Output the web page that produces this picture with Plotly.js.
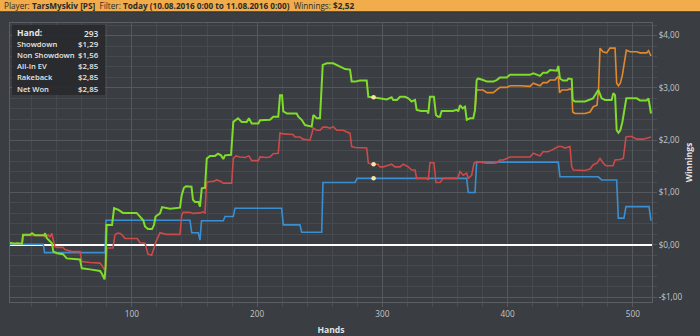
<!DOCTYPE html>
<html>
<head>
<meta charset="utf-8">
<script src="https://cdn.plot.ly/plotly-3.0.1.min.js"></script>
<style>
html,body{margin:0;padding:0;background:#3a3d41;}
#chart{width:700px;height:336px;}
</style>
</head>
<body>
<div id="chart"></div>
<script>
// ---- Data (hand number, winnings in $) ----
const netWonPoints = [
 [2.7,0.04],[5.9,0.02],[8.3,0.03],[10.7,0.02],[12.3,0.02],[13.1,0.19],[18.7,0.19],[20.3,0.22],[22.7,0.18],[29.9,0.18],
 [30.7,0.22],[32.3,0.12],[34.7,0.06],[36.2,0.03],[37.3,-0.13],[40.2,-0.16],[45,-0.18],[48,-0.26],[58.6,-0.28],[60,-0.45],
 [66.6,-0.47],[74.6,-0.5],[76.2,-0.56],[78.2,-0.66],[79,-0.44],[79.8,0.38],[84.2,0.38],[85.8,0.70],[89,0.67],[92.9,0.61],
 [103.8,0.61],[106.5,0.54],[109.1,0.47],[110.5,0.35],[112.9,0.30],[116.1,0.30],[117.7,0.38],[118.9,0.54],[122.5,0.60],[124.1,0.72],
 [130.4,0.69],[138.4,0.71],[139.8,0.95],[141.6,1.09],[143.2,1.12],[147.6,1.11],[148.8,0.86],[150.4,0.82],[153.2,0.82],[154.4,0.73],
 [155.8,1.08],[158.4,1.09],[159.8,1.65],[162.4,1.70],[166.4,1.70],[168.8,1.74],[171.2,1.71],[173,1.64],[174.4,1.71],[179.2,1.72],
 [181,2.35],[184.8,2.42],[187.7,2.35],[191.7,2.35],[193.5,2.42],[195.7,2.32],[201,2.32],[202.3,2.38],[210.3,2.39],[212.9,2.45],
 [216.9,2.45],[218.3,2.86],[219.9,2.86],[220.9,2.55],[223.9,2.51],[231.6,2.51],[232.9,2.45],[235.6,2.39],[238.2,2.29],[243.6,2.26],
 [244.9,2.48],[247.6,2.42],[250.2,2.42],[252.4,3.44],[255.6,3.47],[260.8,3.47],[263.6,3.44],[266.3,3.41],[270.2,3.36],[274.2,3.35],
 [275.5,3.12],[278.2,3.12],[282.2,3.14],[287.5,3.14],[288.8,2.83],[292.5,2.82],[300.5,2.80],[303.5,2.78],[307.4,2.82],[308.7,2.77],
 [311.7,2.77],[314.1,2.83],[318.1,2.83],[320.7,2.80],[323.4,2.74],[326.1,2.77],[327.4,2.58],[330.9,2.56],[335.7,2.56],[336.7,2.51],
 [338,2.83],[341.2,2.83],[342.8,2.48],[344.4,2.45],[346,2.45],[347.4,2.56],[356.4,2.56],[359.4,2.58],[360.6,2.55],[362,2.67],
 [364.1,2.61],[366,2.64],[367.4,2.39],[370,2.42],[372.6,2.42],[374,2.58],[375.3,3.15],[376.4,3.18],[380.4,3.15],[383.5,3.12],
 [388.6,3.12],[391.3,3.15],[393.9,3.20],[399.3,3.20],[401.9,3.25],[409.9,3.25],[417.9,3.25],[420.5,3.28],[425.9,3.23],[428.3,3.29],
 [431.5,3.29],[433.9,3.34],[437.9,3.34],[439.4,3.33],[440.5,3.42],[441.8,3.18],[444.2,3.14],[447.4,3.14],[448.5,3.18],[451.2,3.17],
 [452,2.77],[453.8,2.74],[461.8,2.74],[464.4,2.77],[468.2,2.80],[469.8,2.86],[472.4,2.96],[473.8,2.88],[475.1,2.80],[477.8,2.77],
 [483.1,2.77],[484.4,2.90],[485.8,2.86],[487.1,2.19],[488.5,2.14],[490,2.19],[491.6,2.34],[493.2,2.57],[494.8,2.80],[497.7,2.80],
 [503.1,2.80],[505.7,2.76],[511.1,2.76],[512.5,2.80],[514.5,2.51]
];
const allInEvPoints = [
 [374,2.58],[375.3,2.97],[376.4,2.96],[380.4,2.96],[383.5,2.91],[388.6,2.91],[391.3,2.96],[393.9,3.01],[399.3,3.01],[401.9,3.04],
 [409.9,3.04],[417.9,3.03],[420.5,3.09],[425.9,3.04],[428.3,3.10],[431.5,3.10],[433.9,3.15],[437.9,3.15],[439.4,3.20],[440.5,3.22],
 [441.5,2.91],[443.4,2.96],[447.4,2.96],[449.8,2.98],[451.2,2.96],[452,2.54],[453.8,2.51],[461.8,2.51],[465.8,2.54],[468.4,2.64],
 [471.4,2.67],[472.6,2.96],[473.8,3.76],[476.1,3.69],[479.1,3.67],[481.7,3.76],[485.8,3.76],[487.1,3.09],[488.5,3.04],[490,3.09],
 [491.6,3.24],[493.2,3.47],[494.8,3.72],[497.7,3.69],[503.1,3.69],[505.7,3.67],[511.1,3.67],[512.5,3.71],[514.5,3.61]
];
const nonShowdownPoints = [
 [2.7,0.03],[12.3,0.02],[13.1,0.18],[29.1,0.18],[30.7,0.15],[33.1,0.19],[34.7,0.15],[36,0.22],[37.3,0.09],[38.6,-0.04],
 [41,-0.05],[45,-0.05],[46.6,-0.09],[52,-0.13],[58.6,-0.13],[60,-0.32],[66.6,-0.34],[74.6,-0.35],[75.9,-0.39],[78.2,-0.48],
 [79.4,-0.39],[80.2,-0.06],[84.9,-0.06],[86.5,0.19],[88.1,0.22],[90.5,0.22],[92.1,0.19],[94.5,0.12],[104.3,0.12],[106.5,0.04],
 [110.5,0.03],[111.9,-0.07],[112.9,-0.18],[115.8,-0.20],[117.1,-0.10],[119.3,0.06],[122.5,0.23],[124.9,0.22],[127.3,0.20],[138.4,0.20],
 [139.8,0.57],[141,0.62],[146.4,0.62],[148.8,0.60],[154.4,0.61],[157,0.63],[158.4,0.61],[159.6,1.19],[162.4,1.21],[164.8,1.21],
 [167.7,1.24],[170.4,1.22],[173,1.18],[179.7,1.18],[181,1.65],[183.1,1.70],[186.3,1.68],[190.3,1.67],[193.5,1.70],[195.7,1.61],
 [201,1.61],[202.3,1.68],[207.7,1.67],[210.3,1.68],[212.9,1.74],[216.9,1.75],[218.3,2.14],[220.7,2.12],[228.7,2.11],[230.2,2.06],
 [234.3,2.06],[236.6,2.02],[242.2,2.00],[244.9,2.23],[247.6,2.19],[250.2,2.19],[252.6,2.25],[255.6,2.25],[258.2,2.23],[260.8,2.26],
 [263.6,2.19],[268.8,2.19],[271.8,2.16],[274.2,2.13],[275.5,1.88],[278.2,1.86],[287.5,1.85],[288.8,1.56],[292.5,1.54],[296.5,1.54],
 [298.1,1.49],[300.8,1.49],[303.5,1.51],[307.4,1.54],[310.1,1.49],[314.1,1.49],[316.7,1.54],[320.7,1.49],[323.4,1.43],[326.1,1.43],
 [327.4,1.27],[335.7,1.27],[336.7,1.24],[338,1.57],[341.2,1.57],[342.8,1.19],[346,1.19],[348.7,1.27],[359.4,1.27],[360.6,1.30],
 [362,1.40],[364.6,1.33],[367.3,1.37],[368.6,1.27],[371.3,1.33],[373.2,1.56],[375.3,1.59],[380.6,1.57],[383.3,1.56],[388.6,1.56],
 [391.3,1.57],[393.9,1.62],[396.6,1.62],[399.3,1.65],[401.9,1.68],[409.9,1.68],[417.9,1.68],[420.5,1.75],[425.9,1.70],[428.3,1.78],
 [432.3,1.78],[435.2,1.81],[437.9,1.85],[440.5,1.88],[443.2,1.88],[445.8,1.85],[449.8,1.88],[451.2,1.49],[452.5,1.43],[457.8,1.42],
 [461.8,1.42],[465.8,1.45],[468.4,1.53],[471.4,1.56],[473.8,1.65],[476.4,1.56],[478.6,1.51],[484.2,1.51],[485.8,1.62],[489.8,1.63],
 [492.4,1.65],[494.5,2.06],[496.2,2.07],[499.1,2.07],[500.9,2.04],[503.1,2.02],[508.3,2.02],[511.1,2.04],[514.5,2.06]
];
const showdownPoints = [
 [2.7,0.01],[29.3,0.01],[30.3,-0.15],[78.6,-0.15],[79.4,0.47],[146.4,0.47],[147.8,0.23],[153,0.23],[154.4,0.09],[155.6,0.46],
 [173,0.46],[174.4,0.54],[181,0.54],[182.4,0.70],[219.6,0.70],[220.9,0.38],[234.2,0.38],[235.6,0.24],[251.6,0.24],[252.6,1.19],
 [278.2,1.19],[279.8,1.27],[367.3,1.27],[368.6,1.00],[374,1.00],[375.3,1.58],[440.5,1.58],[441.8,1.30],[472.4,1.30],[475.1,1.24],
 [487.1,1.24],[488.4,0.51],[492.9,0.51],[494.5,0.73],[512.9,0.73],[514.5,0.46]
];
// hovered hand marker (hand 293): net won, non showdown, showdown
const markerHand = 293;
const markerValues = [2.82, 1.54, 1.27];

// axis ticks
const xTickVals = [100, 200, 300, 400, 500];
const yTickVals = [-1, 0, 1, 2, 3, 4];
const yTickText = ['-$1,00', '$0,00', '$1,00', '$2,00', '$3,00', '$4,00'];

// header and info box texts
const headerParts = [['Player:', 'TarsMyskiv [PS]'], ['Filter:', 'Today (10.08.2016 0:00 to 11.08.2016 0:00)'], ['Winnings:', '$2,52']];
const statLabels = ['Hand:', 'Showdown', 'Non Showdown', 'All-In EV', 'Rakeback', 'Net Won'];
const statValues = ['293', '$1,29', '$1,56', '$2,85', '$2,85', '$2,85'];

// ---- layout geometry ----
const W = 700, H = 336;
const M = {l: 10, r: 48, t: 23, b: 34};
const PW = W - M.l - M.r, PH = H - M.t - M.b;
const PX = p => (p - M.l) / PW;           // pixel x -> paper
const PY = p => (H - M.b - p) / PH;       // pixel y -> paper

const FONT = 'Open Sans, Noto Sans, sans-serif';
const xs = a => a.map(p => p[0]);
const ys = a => a.map(p => p[1]);

function line(points, color, width) {
  return {type: 'scatter', mode: 'lines', x: xs(points), y: ys(points),
          line: {color: color, width: width, shape: 'linear'}, hoverinfo: 'skip'};
}

const traces = [
  line(showdownPoints, '#3a8fd2', 1.6),
  line(nonShowdownPoints, '#cc4a4a', 1.6),
  line(allInEvPoints, '#e2892e', 1.6),
  line(netWonPoints, '#7fdc2a', 2),
  {type: 'scatter', mode: 'markers', x: markerValues.map(() => markerHand), y: markerValues,
   marker: {color: '#f7e4a6', size: 4.5, line: {width: 0}}, hoverinfo: 'skip'}
];

const shapes = [
  {type: 'rect', xref: 'paper', yref: 'paper', x0: PX(0), x1: PX(W), y0: PY(11.5), y1: PY(0),
   fillcolor: '#f1ac4b', line: {width: 0}, layer: 'above'},
  {type: 'line', xref: 'paper', yref: 'paper', x0: PX(0), x1: PX(W), y0: PY(12), y1: PY(12),
   line: {color: '#2e3033', width: 1}, layer: 'above'},
  {type: 'rect', xref: 'paper', yref: 'paper', x0: PX(12), x1: PX(105), y0: PY(95), y1: PY(25),
   fillcolor: 'rgba(40,41,44,0.92)', line: {width: 0}, layer: 'above'}
];

const headerText = headerParts.map(p => p[0] + ' <b>' + p[1] + '</b>').join('&nbsp;&nbsp;');
const annotations = [
  {xref: 'paper', yref: 'paper', x: PX(1.5), y: PY(6), xanchor: 'left', yanchor: 'middle', showarrow: false,
   text: headerText, font: {family: FONT, size: 8.2, color: '#2a2a2a'}}
];
const rowY = [33, 44.3, 55.3, 66.3, 77.3, 88.5];
statLabels.forEach((lab, i) => {
  const big = i === 0;
  annotations.push({xref: 'paper', yref: 'paper', x: PX(15), y: PY(rowY[i]), xanchor: 'left', yanchor: 'middle',
    showarrow: false, text: big ? '<b>' + lab + '</b>' : lab,
    font: {family: FONT, size: big ? 8.6 : 7.6, color: '#e6e6e6', weight: 600}});
  annotations.push({xref: 'paper', yref: 'paper', x: PX(101.5), y: PY(rowY[i]), xanchor: 'right', yanchor: 'middle',
    showarrow: false, text: statValues[i],
    font: {family: FONT, size: big ? 8.4 : 7.9, color: '#e6e6e6', weight: 600}});
});

const layout = {
  width: W, height: H,
  margin: M,
  paper_bgcolor: '#3a3d41', plot_bgcolor: '#3a3d41',
  showlegend: false, hovermode: false,
  font: {family: FONT, color: '#c4c6c8', size: 8},
  xaxis: {
    range: [2.7, 515.3], tickmode: 'array', tickvals: xTickVals,
    showgrid: true, gridcolor: '#55585c', gridwidth: 1,
    showline: true, mirror: true, linecolor: '#5b5e62', linewidth: 1,
    ticks: 'outside', ticklen: 4, tickcolor: '#55585c',
    minor: {dtick: 20, tick0: 0, showgrid: true, gridcolor: '#46494d', ticks: 'outside', ticklen: 4, tickcolor: '#4a4d51'},
    zeroline: false,
    tickfont: {family: FONT, size: 8.2, color: '#c4c6c8'},
    title: {text: '<b>Hands</b>', font: {family: FONT, size: 8.6, color: '#e2e2e2'}, standoff: 10}
  },
  yaxis: {
    side: 'right', range: [-1.094, 4.241], tickmode: 'array', tickvals: yTickVals, ticktext: yTickText,
    showgrid: true, gridcolor: '#55585c', gridwidth: 1,
    showline: true, mirror: true, linecolor: '#5b5e62', linewidth: 1,
    ticks: 'outside', ticklen: 4, tickcolor: '#55585c',
    minor: {dtick: 0.2, tick0: 0, showgrid: true, gridcolor: '#46494d', ticks: 'outside', ticklen: 4, tickcolor: '#4a4d51'},
    zeroline: true, zerolinecolor: '#ffffff', zerolinewidth: 2,
    tickfont: {family: FONT, size: 8.2, color: '#c4c6c8'},
    title: {text: '<b>Winnings</b>', font: {family: FONT, size: 8.6, color: '#e2e2e2'}, standoff: 4}
  },
  shapes: shapes,
  annotations: annotations
};

Plotly.newPlot('chart', traces, layout, {staticPlot: true, displayModeBar: false});
</script>
</body>
</html>
